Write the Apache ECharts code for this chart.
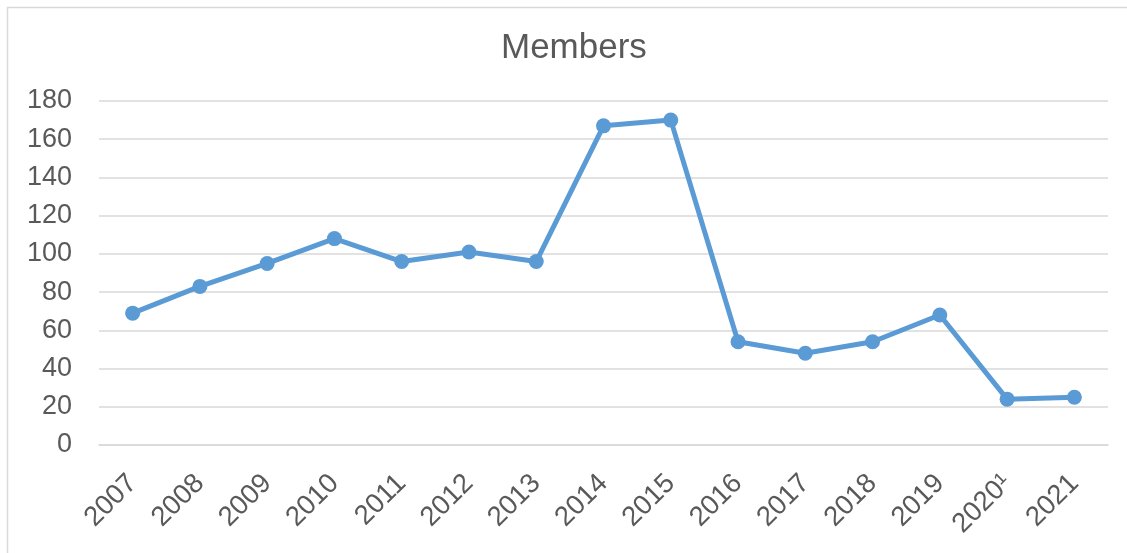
<!DOCTYPE html>
<html>
<head>
<meta charset="utf-8">
<script src="https://cdn.jsdelivr.net/npm/echarts@6/dist/echarts.min.js"></script>
<style>
  html, body { margin: 0; padding: 0; background: #fff; }
  #chart { width: 1127px; height: 553px; }
</style>
</head>
<body>
<div id="chart"></div>
<script>
// categories and values
var years = ['2007', '2008', '2009', '2010', '2011', '2012', '2013', '2014',
             '2015', '2016', '2017', '2018', '2019', '2020¹', '2021'];
var members = [69, 83, 95, 108, 96, 101, 96, 167, 170, 54, 48, 54, 68, 24, 25];

var chart = echarts.init(document.getElementById('chart'));

var option = {
    backgroundColor: '#fff',
    animation: false,
    title: {
        text: 'Members',
        left: 496,
        top: 26,
        textStyle: {
            fontFamily: 'Liberation Sans',
            fontSize: 35,
            fontWeight: 'normal',
            color: '#595959'
        }
    },
    graphic: [{
        type: 'rect',
        shape: { x: 7.5, y: 7.5, width: 1200, height: 600 },
        style: { fill: 'none', stroke: '#d9d9d9', lineWidth: 1.5 },
        silent: true
    }],
    grid: {
        left: 99,
        right: 19,
        top: 101,
        bottom: 108
    },
    xAxis: {
        type: 'category',
        data: years,
        boundaryGap: true,
        axisTick: { show: false },
        axisLine: {
            lineStyle: { color: '#d9d9d9', width: 1.6 }
        },
        axisLabel: {
            rotate: 45,
            margin: 34,
            interval: 0,
            fontFamily: 'Liberation Sans',
            fontSize: 27.5,
            color: '#595959'
        }
    },
    yAxis: {
        type: 'value',
        min: 0,
        max: 180,
        interval: 20,
        axisTick: { show: false },
        axisLine: { show: false },
        axisLabel: {
            margin: 27,
            fontFamily: 'Liberation Sans',
            fontSize: 27,
            color: '#595959'
        },
        splitLine: {
            lineStyle: { color: '#d9d9d9', width: 1.6 }
        }
    },
    series: [{
        name: 'Members',
        type: 'line',
        data: members,
        symbol: 'circle',
        symbolSize: 15,
        color: '#5b9bd5',
        lineStyle: { width: 5, color: '#5b9bd5' },
        itemStyle: { color: '#5b9bd5' }
    }]
};

chart.setOption(option);
</script>
</body>
</html>
